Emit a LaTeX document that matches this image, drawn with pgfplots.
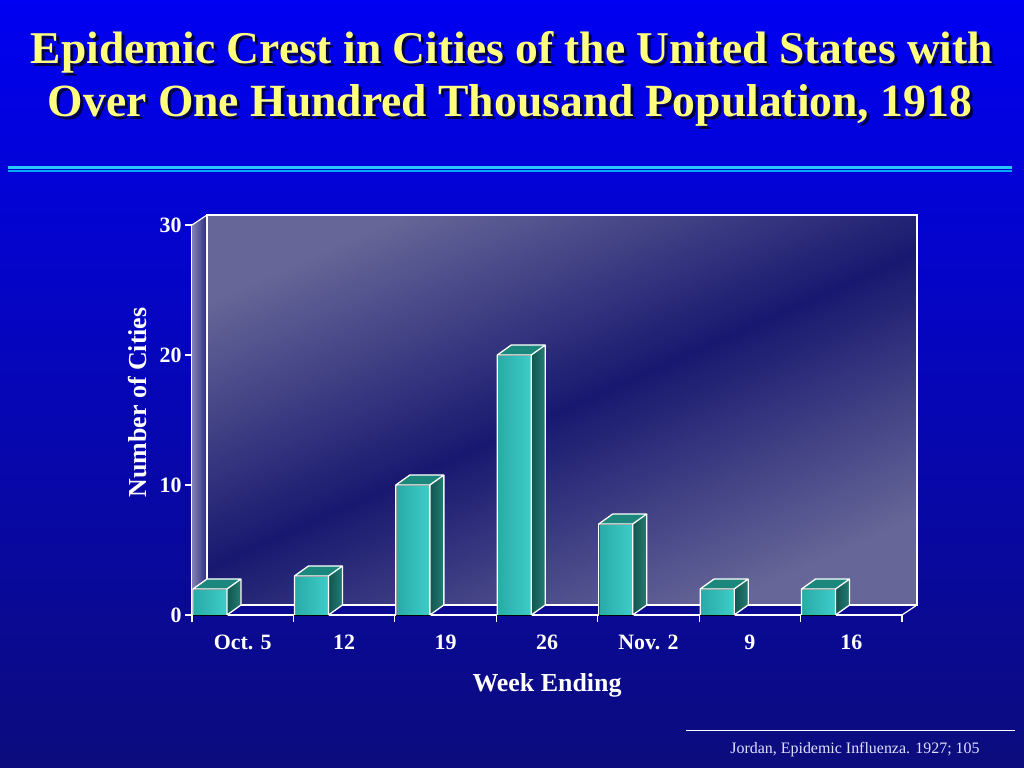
\documentclass[border=0pt]{standalone}
\usepackage{pgfplots}
\pgfplotsset{compat=1.18}
\usepackage{fontspec}
\setmainfont{Liberation Serif}

\definecolor{bgtop}{RGB}{0,0,242}
\definecolor{bgbot}{RGB}{12,12,125}
\definecolor{ttl}{RGB}{255,255,125}
\definecolor{ttlshadow}{RGB}{0,0,70}
\definecolor{rule1}{RGB}{40,200,255}
\definecolor{rule2}{RGB}{0,170,245}
\definecolor{wallhi}{RGB}{102,102,152}
\definecolor{walllo}{RGB}{24,24,112}
\definecolor{lwallhi}{RGB}{130,130,180}
\definecolor{lwalllo}{RGB}{45,45,125}
\definecolor{frontA}{RGB}{62,205,200}
\definecolor{frontB}{RGB}{40,170,168}
\definecolor{sideA}{RGB}{18,85,80}
\definecolor{sideB}{RGB}{35,125,115}
\definecolor{topc}{RGB}{28,135,125}
\definecolor{foot}{RGB}{225,225,255}

\pgfdeclareplotmark{blank}{}

% bars: x = left edge of the front face, v = number of cities
\pgfplotstableread{
x    v
0.01 2
1.01 3
2.01 10
3.01 20
4.01 7
5.01 2
6.01 2
}\crestdata

\begin{document}
\begin{tikzpicture}
\begin{scope}[x=1bp,y=1bp]
  \shade[top color=bgtop, bottom color=bgbot] (0,0) rectangle (1024,768);
  % title with shadow
  \node[inner sep=0, anchor=base, text=ttlshadow] at (515,701) {\resizebox{962bp}{32bp}{\bfseries Epidemic Crest in Cities of the United States with}};
  \node[inner sep=0, anchor=base, text=ttl] at (512,704) {\resizebox{962bp}{32bp}{\bfseries Epidemic Crest in Cities of the United States with}};
  \node[inner sep=0, anchor=base, text=ttlshadow] at (513,648) {\resizebox{924bp}{32bp}{\bfseries Over One Hundred Thousand Population, 1918}};
  \node[inner sep=0, anchor=base, text=ttl] at (510,651) {\resizebox{924bp}{32bp}{\bfseries Over One Hundred Thousand Population, 1918}};
  % double rule
  \draw[rule1, line width=3.5] (8,600.5) -- (1012,600.5);
  \draw[rule2, line width=2] (8,596.5) -- (1012,596.5);
  % source
  \draw[white, line width=1] (686,37) -- (1015,37);
  \node[inner sep=0, anchor=base, text=foot, font=\fontsize{16}{16}\selectfont] at (855,14) {Jordan, Epidemic Influenza. 1927; 105};
\end{scope}

\begin{axis}[
  at={(192bp,153bp)}, anchor=south west,
  scale only axis, width=710bp, height=390bp,
  xmin=0, xmax=7, ymin=0, ymax=30,
  clip=false,
  axis x line*=bottom, axis y line*=left,
  axis line style={white, line width=1.2bp},
  xtick={0.5,1.5,...,6.5},
  xticklabels={Oct. 5,12,19,26,Nov. 2,9,16},
  minor xtick={0,...,7},
  major x tick style={draw=none},
  ytick={0,10,20,30},
  tick align=outside,
  major tick length=7bp, minor tick length=7bp,
  tick style={white, line width=1.2bp},
  ticklabel style={text=white, font=\fontsize{22}{22}\selectfont\bfseries},
  /pgf/number format/assume math mode=true,
  xticklabel style={yshift=-9bp},
  xlabel={Week Ending}, ylabel={Number of Cities},
  label style={text=white, font=\fontsize{26}{26}\selectfont\bfseries},
  xlabel style={at={(axis description cs:0.5,-0.18)}, anchor=center},
  ylabel style={at={(axis description cs:-0.077,0.545)}, anchor=center},
]
  % back wall and left wall
  \path[shading=axis, top color=wallhi, bottom color=wallhi, middle color=walllo, shading angle=24]
    ([shift={(15bp,10bp)}]axis cs:0,0) rectangle ([shift={(15bp,10bp)}]axis cs:7,30);
  \path[left color=lwallhi, right color=lwalllo]
    (axis cs:0,0) -- (axis cs:0,30) -- ([shift={(15bp,10bp)}]axis cs:0,30) -- ([shift={(15bp,10bp)}]axis cs:0,0) -- cycle;
  \draw[white, line width=1.2bp]
    ([shift={(15bp,10bp)}]axis cs:0,0) rectangle ([shift={(15bp,10bp)}]axis cs:7,30);
  \draw[white, line width=1.2bp] (axis cs:0,30) -- ([shift={(15bp,10bp)}]axis cs:0,30);
  \draw[white, line width=1.2bp] (axis cs:7,0) -- ([shift={(15bp,10bp)}]axis cs:7,0);

  % 3D bars drawn at each data point (top-left corner of the front face)
  \addplot[scatter, only marks, mark=blank,
    visualization depends on={\thisrow{v} \as \val},
    scatter/@pre marker code/.code={%
      \pgfmathsetlengthmacro{\hh}{\val*13bp}%
      \path[left color=frontB, right color=frontA]
        (0,0) rectangle (34bp,-\hh);
      \path[left color=sideA, right color=sideB]
        (34bp,0) -- (48bp,10bp) -- (48bp,-\hh+10bp) -- (34bp,-\hh) -- cycle;
      \fill[topc] (0,0) -- (14bp,10bp) -- (48bp,10bp) -- (34bp,0) -- cycle;
      \draw[white, line width=1.3bp, line join=round]
        (0,-\hh) -- (0,0) -- (14bp,10bp) -- (48bp,10bp) -- (48bp,-\hh+10bp) -- (34bp,-\hh)
        (0,0) -- (34bp,0) -- (48bp,10bp)
        (34bp,0) -- (34bp,-\hh);
    },
    scatter/@post marker code/.code={},
  ] table[x=x, y=v] {\crestdata};
\end{axis}
\end{tikzpicture}
\end{document}
